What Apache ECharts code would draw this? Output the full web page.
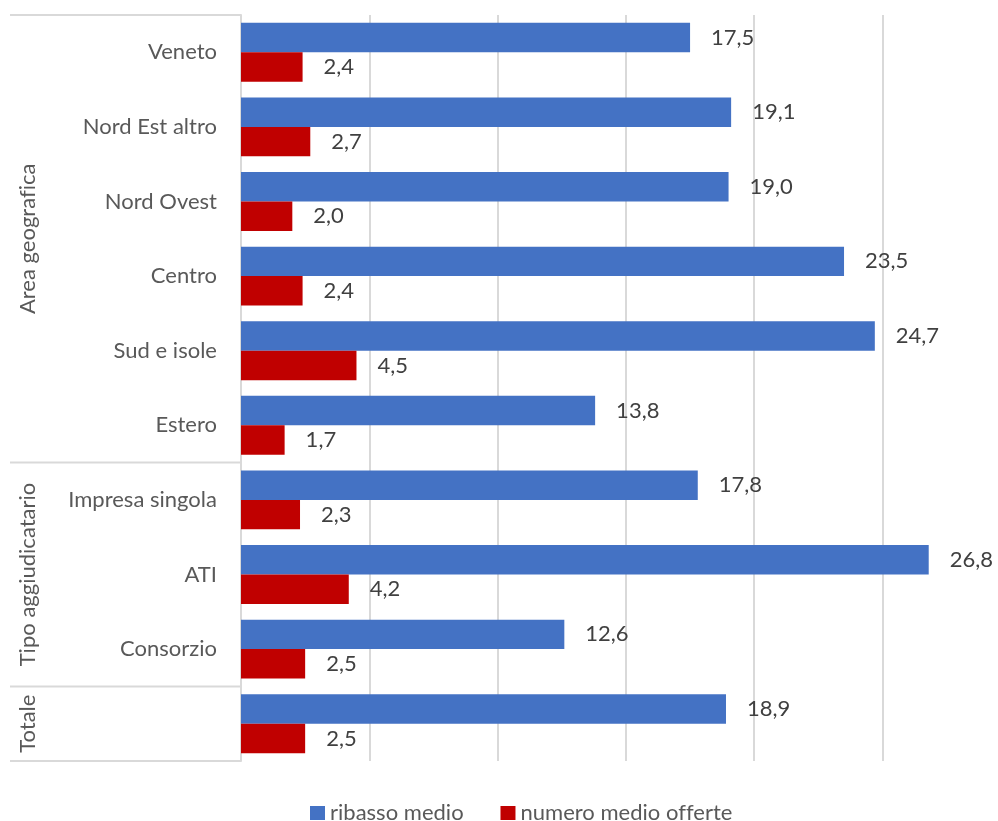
<!DOCTYPE html>
<html>
<head>
<meta charset="utf-8">
<script src="https://cdn.jsdelivr.net/npm/echarts@6/dist/echarts.min.js"></script>
<style>
  html, body { margin: 0; padding: 0; background: #ffffff; overflow: hidden; }
  #chart { width: 998px; height: 821px; }
</style>
</head>
<body>
<div id="chart"></div>
<script>
// Categories, top to bottom
const categories = ['Veneto', 'Nord Est altro', 'Nord Ovest', 'Centro', 'Sud e isole', 'Estero',
                    'Impresa singola', 'ATI', 'Consorzio', 'Totale'];
// Series values
const ribassoMedio = [17.5, 19.1, 19.0, 23.5, 24.7, 13.8, 17.8, 26.8, 12.6, 18.9];
const numeroMedioOfferte = [2.4, 2.7, 2.0, 2.4, 4.5, 1.7, 2.3, 4.2, 2.5, 2.5];
const seriesNames = ['ribasso medio', 'numero medio offerte'];
// Category groups shown as a second level on the left
const groupNames = ['Area geografica', 'Tipo aggiudicatario', 'Totale'];
const groupFirst = [0, 6, 9];
const groupLast = [5, 8, 9];

// Keep "fi" / "ff" as separate letters (no ligatures) in canvas text
(function () {
  const proto = CanvasRenderingContext2D.prototype;
  const origFill = proto.fillText;
  proto.fillText = function () {
    if ('letterSpacing' in this) this.letterSpacing = '0.01px';
    return origFill.apply(this, arguments);
  };
})();

const FONT = 'Lato, "Open Sans", sans-serif';
const FONT_SIZE = 22;
const GRID_COLOR = '#D9D9D9';
const fmt = v => v.toFixed(1).replace('.', ',');

const chart = echarts.init(document.getElementById('chart'), null, { renderer: 'canvas' });

const labelStyle = {
  show: true,
  position: 'right',
  distance: 21,
  color: '#404040',
  fontFamily: FONT,
  fontSize: FONT_SIZE,
  formatter: p => fmt(p.value)
};

chart.setOption({
  animation: false,
  backgroundColor: '#ffffff',
  textStyle: { fontFamily: FONT },
  grid: { left: 241, right: 0, top: 15, bottom: 60, containLabel: false },
  legend: {
    left: 305,
    top: 797,
    padding: 5,
    itemWidth: 15,
    itemHeight: 14,
    itemGap: 37,
    icon: 'rect',
    textStyle: { color: '#595959', fontFamily: FONT, fontSize: FONT_SIZE },
    data: seriesNames
  },
  xAxis: {
    type: 'value',
    min: 0,
    max: 29.5,
    interval: 5,
    axisLabel: { show: false },
    axisLine: { show: false },
    axisTick: { show: false },
    splitLine: {
      show: true,
      showMaxLine: false,
      lineStyle: { color: GRID_COLOR, width: 2 }
    }
  },
  yAxis: {
    type: 'category',
    inverse: true,
    data: categories,
    axisLine: { show: true, lineStyle: { color: GRID_COLOR, width: 2 } },
    axisTick: { show: false },
    axisLabel: {
      color: '#595959',
      fontFamily: FONT,
      fontSize: FONT_SIZE,
      margin: 24,
      // a single-row group already carries its name on the left
      formatter: v => (groupNames.includes(v) ? '' : v)
    }
  },
  series: [
    {
      name: seriesNames[0],
      type: 'bar',
      data: ribassoMedio,
      barGap: '0%',
      barCategoryGap: '21%',
      itemStyle: { color: '#4472C4' },
      label: labelStyle
    },
    {
      name: seriesNames[1],
      type: 'bar',
      data: numeroMedioOfferte,
      barGap: '0%',
      barCategoryGap: '21%',
      itemStyle: { color: '#C00000' },
      label: labelStyle
    }
  ]
});

// Second-level group frame and labels, placed from the axis scales
function drawGroups() {
  const c0 = chart.convertToPixel({ yAxisIndex: 0 }, categories[0]);
  const c1 = chart.convertToPixel({ yAxisIndex: 0 }, categories[1]);
  const half = (c1 - c0) / 2;
  const axisX = chart.convertToPixel({ xAxisIndex: 0 }, 0);
  const bandTop = i => chart.convertToPixel({ yAxisIndex: 0 }, categories[i]) - half;
  const bandBottom = i => chart.convertToPixel({ yAxisIndex: 0 }, categories[i]) + half;

  const elements = [];
  const ys = [bandTop(0)];
  groupLast.forEach(i => ys.push(bandBottom(i)));
  ys.forEach(y => {
    elements.push({
      type: 'line',
      silent: true,
      shape: { x1: 10, y1: y, x2: axisX, y2: y },
      style: { stroke: GRID_COLOR, lineWidth: 2 }
    });
  });
  groupNames.forEach((name, g) => {
    const mid = (bandTop(groupFirst[g]) + bandBottom(groupLast[g])) / 2;
    elements.push({
      type: 'text',
      silent: true,
      x: 28,
      y: mid,
      rotation: Math.PI / 2,
      style: {
        text: name,
        fill: '#595959',
        font: FONT_SIZE + 'px ' + FONT,
        align: 'center',
        verticalAlign: 'middle'
      }
    });
  });
  chart.setOption({ graphic: { elements: elements } });
}
drawGroups();
</script>
</body>
</html>
